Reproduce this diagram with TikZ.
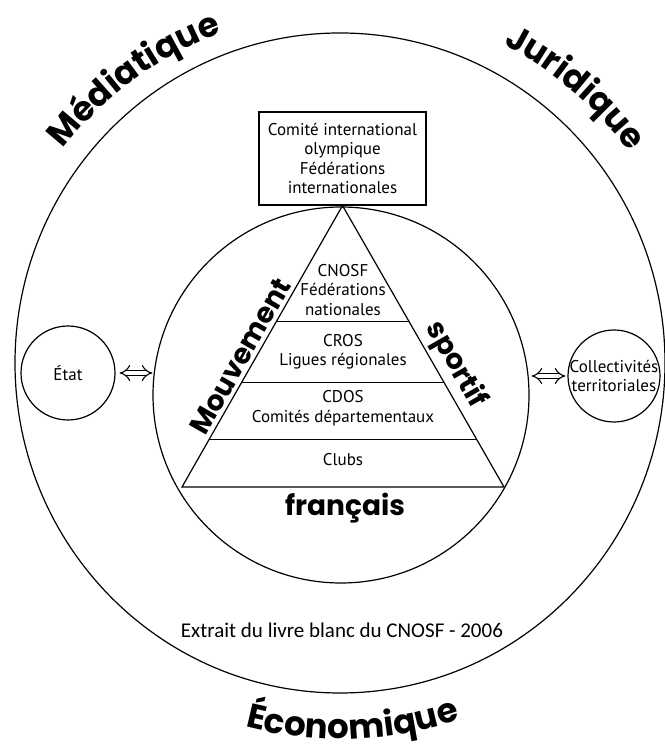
\documentclass[tikz,border=0pt]{standalone}
\usepackage{fontspec}
\setmainfont{PT Sans}
\newfontfamily\boldsans{Poppins}
\newfontfamily\notefont{Carlito}
\newcommand\arcword{\boldsans\bfseries\fontsize{34}{34}\selectfont}
\usetikzlibrary{calc,arrows.meta,decorations.text}

\begin{document}
\begin{tikzpicture}[x=1pt,y=1pt,line width=1.2pt,
  tiertext/.style={align=center,inner sep=0pt,font=\fontsize{17}{19.5}\selectfont},
  word/.style={font=\boldsans\bfseries\fontsize{28}{28}\selectfont},
  side/.style={circle,draw,minimum size=94pt,inner sep=0pt},
  link/.style={double,double distance=4.5pt,line width=1.1pt,{Implies[scale=1.8]}-{Implies[scale=1.8]}}]
\useasboundingbox[fill=white] (0,0) rectangle (664,751);
\coordinate (C) at (340,388);
\draw (C) ellipse [x radius=325, y radius=330];
\node[circle,draw,minimum size=376pt,inner sep=0pt] (inner) at (341,356) {};
\node[draw,tiertext,minimum width=167pt,minimum height=93pt] (cio) at (342.5,592.5)
  {Comité international\\olympique\\Fédérations\\internationales};
\coordinate (bl) at (182,264);
\coordinate (br) at (504,264);
\draw (cio.south) -- (bl) -- (br) -- cycle;
\foreach \f in {0.411,0.628,0.830}
  \draw ($(cio.south)!\f!(bl)$) -- ($(cio.south)!\f!(br)$);
\node[tiertext] (cnosf) at (343,461) {CNOSF\\Fédérations\\nationales};
\node[tiertext] (cros) at (343,399) {CROS\\Ligues régionales};
\node[tiertext] (cdos) at (343,343) {CDOS\\Comités départementaux};
\node[tiertext] (clubs) at (343,291) {Clubs};
\path (bl) -- (cio.south) node[word,sloped,above,pos=0.44] (mvt) {Mouvement};
\path (cio.south) -- (br) node[word,sloped,above,pos=0.6] (sport) {sportif};
\node[word] (fr) at (345,243) {français};
\node[side,label={[tiertext]center:État}] (etat) at (68,378) {};
\node[side,minimum size=92pt,label={[tiertext,font=\fontsize{17}{19}\selectfont]center:Collectivités\\territoriales}] (coll) at (614,375) {};
\draw[link,shorten <=4pt] (etat.east) -- (etat.east -| inner.west);
\draw[link,shorten <=2pt,shorten >=2pt] (coll.west) -- (coll.west -| inner.east);
\node[font=\notefont\fontsize{21}{21}\selectfont] (src) at (342,121) {Extrait du livre blanc du CNOSF - 2006};
\path[decorate,decoration={text along path,text align=center,text={|\arcword|Médiatique}}]
  (C) ++(150:350pt) arc[start angle=150,end angle=102,radius=350pt];
\path[decorate,decoration={text along path,text align=center,text={|\arcword|Juridique}}]
  (C) ++(74:358pt) arc[start angle=74,end angle=25,radius=358pt];
\path[decorate,decoration={text along path,text align=center,text={|\arcword|Économique}}]
  (C) ++(-113:376pt) arc[start angle=-113,end angle=-63,radius=376pt];
\end{tikzpicture}
\end{document}
